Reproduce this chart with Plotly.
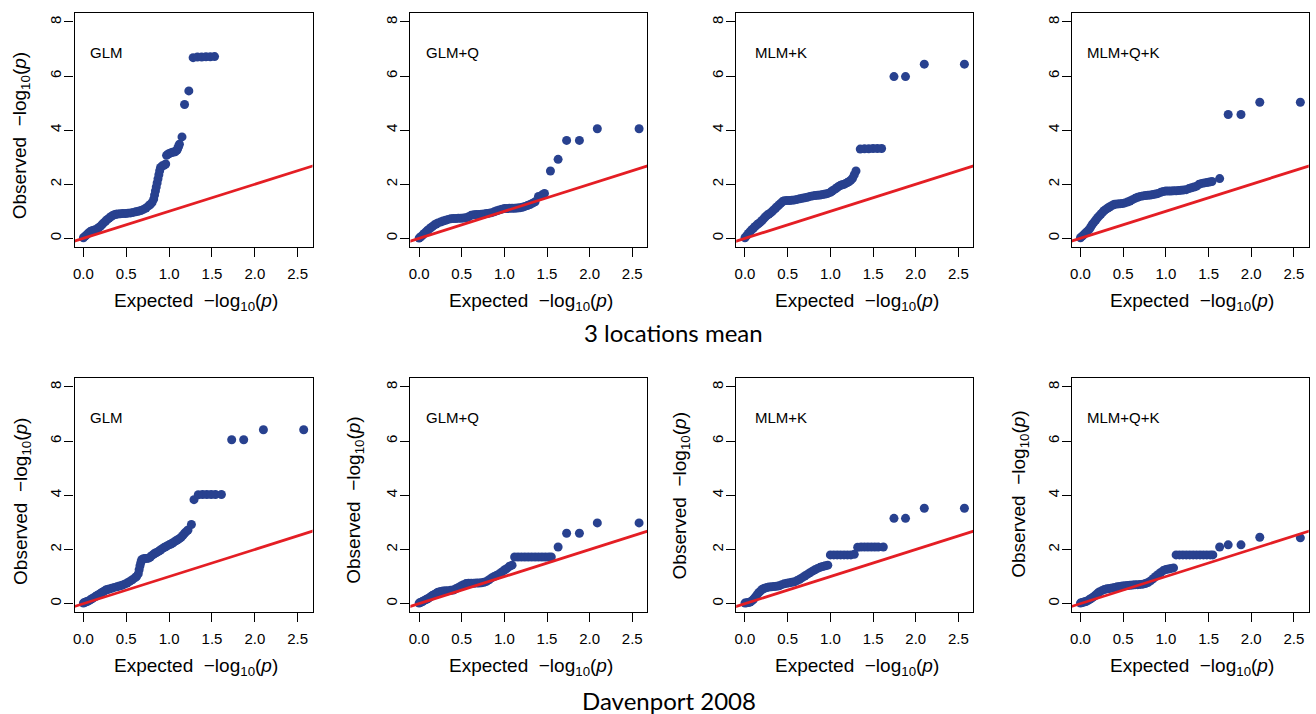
import plotly.graph_objects as go

W, H = 1316, 714

# ---------------- data ----------------
PANEL_LABELS = ["GLM", "GLM+Q", "MLM+K", "MLM+Q+K"]
ROW_TITLES = ["3 locations mean", "Davenport 2008"]
X_TICKS = [0.0, 0.5, 1.0, 1.5, 2.0, 2.5]
X_TICK_TEXT = ["0.0", "0.5", "1.0", "1.5", "2.0", "2.5"]
Y_TICKS = [0, 2, 4, 6, 8]
Y_TICK_TEXT = ["0", "2", "4", "6", "8"]
REF_LINE = [-1.0, 3.0]  # expected = observed (y = x)

# 3 locations mean
mean_glm_x = [0.00,0.02,0.04,0.06,0.08,0.10,0.12,0.14,0.16,0.18,0.20,0.22,0.24,0.26,0.28,0.30,0.32,0.34,0.36,0.38,0.40,0.43,0.46,0.49,0.52,0.55,0.58,0.61,0.64,0.67,0.70,0.73,0.76,0.78,0.80,0.82,0.83,0.84,0.85,0.86,0.87,0.88,0.89,0.90,0.92,0.94,0.96,0.97,0.99,1.01,1.03,1.05,1.07,1.09,1.10,1.11,1.12,1.15,1.18,1.23,1.28,1.33,1.38,1.43,1.48,1.53]
mean_glm_y = [0.02,0.08,0.14,0.20,0.25,0.28,0.30,0.32,0.35,0.40,0.45,0.52,0.58,0.64,0.70,0.75,0.80,0.84,0.87,0.89,0.90,0.91,0.92,0.92,0.93,0.94,0.96,0.98,1.00,1.03,1.07,1.12,1.20,1.25,1.32,1.45,1.60,1.75,1.90,2.05,2.20,2.35,2.50,2.62,2.68,2.70,2.75,3.07,3.12,3.15,3.17,3.19,3.20,3.25,3.32,3.40,3.48,3.75,4.95,5.45,6.68,6.70,6.70,6.71,6.71,6.72]

mean_glmq_x = [0.00,0.02,0.04,0.06,0.08,0.10,0.12,0.14,0.16,0.18,0.20,0.22,0.25,0.28,0.31,0.34,0.37,0.40,0.43,0.46,0.49,0.52,0.55,0.58,0.61,0.64,0.67,0.70,0.73,0.76,0.79,0.82,0.85,0.88,0.91,0.94,0.97,1.00,1.03,1.06,1.09,1.12,1.15,1.18,1.21,1.24,1.27,1.30,1.33,1.36,1.40,1.44,1.47,1.54,1.63,1.73,1.88,2.09,2.58]
mean_glmq_y = [0.01,0.06,0.12,0.18,0.24,0.30,0.35,0.40,0.45,0.50,0.53,0.57,0.60,0.64,0.67,0.70,0.72,0.73,0.73,0.74,0.74,0.75,0.76,0.80,0.85,0.87,0.88,0.88,0.89,0.90,0.92,0.93,0.95,0.98,1.02,1.05,1.08,1.10,1.10,1.11,1.11,1.11,1.12,1.13,1.15,1.18,1.21,1.25,1.30,1.35,1.55,1.60,1.66,2.49,2.92,3.62,3.62,4.05,4.05]

mean_mlmk_x = [0.00,0.02,0.04,0.06,0.08,0.10,0.12,0.14,0.16,0.18,0.20,0.22,0.24,0.26,0.28,0.30,0.32,0.34,0.36,0.38,0.40,0.42,0.44,0.46,0.49,0.52,0.55,0.58,0.61,0.64,0.67,0.70,0.73,0.76,0.79,0.82,0.85,0.88,0.91,0.94,0.97,1.00,1.02,1.04,1.06,1.08,1.10,1.12,1.14,1.16,1.18,1.20,1.22,1.24,1.26,1.28,1.30,1.35,1.40,1.45,1.50,1.55,1.60,1.745,1.88,2.10,2.57]
mean_mlmk_y = [0.02,0.10,0.18,0.25,0.32,0.38,0.44,0.50,0.55,0.60,0.66,0.73,0.80,0.86,0.90,0.94,1.00,1.06,1.12,1.18,1.24,1.30,1.36,1.39,1.40,1.40,1.41,1.42,1.44,1.46,1.48,1.50,1.52,1.55,1.57,1.58,1.59,1.60,1.62,1.64,1.66,1.70,1.75,1.79,1.83,1.88,1.93,1.96,1.98,2.00,2.03,2.06,2.10,2.15,2.22,2.35,2.49,3.30,3.31,3.31,3.32,3.32,3.32,5.98,5.98,6.44,6.44]

mean_mlmqk_x = [0.00,0.02,0.04,0.06,0.08,0.10,0.12,0.14,0.16,0.18,0.20,0.22,0.24,0.26,0.28,0.30,0.32,0.34,0.36,0.38,0.40,0.43,0.46,0.49,0.52,0.55,0.58,0.61,0.64,0.67,0.70,0.73,0.76,0.79,0.82,0.85,0.88,0.91,0.94,0.97,1.00,1.03,1.06,1.09,1.12,1.15,1.18,1.21,1.24,1.27,1.30,1.33,1.36,1.39,1.42,1.45,1.48,1.51,1.54,1.63,1.73,1.88,2.10,2.575]
mean_mlmqk_y = [0.02,0.08,0.14,0.20,0.26,0.32,0.42,0.52,0.60,0.68,0.76,0.83,0.90,0.97,1.03,1.08,1.12,1.16,1.20,1.23,1.26,1.27,1.28,1.29,1.31,1.34,1.38,1.43,1.48,1.52,1.55,1.57,1.58,1.59,1.60,1.62,1.64,1.66,1.70,1.73,1.75,1.75,1.75,1.76,1.76,1.77,1.78,1.79,1.80,1.84,1.87,1.90,1.93,2.00,2.03,2.05,2.06,2.08,2.10,2.21,4.58,4.58,5.03,5.03]

# Davenport 2008
dav_glm_x = [0.00,0.02,0.04,0.06,0.08,0.10,0.12,0.14,0.16,0.18,0.20,0.22,0.24,0.26,0.28,0.30,0.33,0.36,0.39,0.42,0.45,0.48,0.51,0.54,0.57,0.60,0.62,0.64,0.65,0.66,0.67,0.68,0.70,0.72,0.74,0.76,0.78,0.80,0.82,0.84,0.86,0.88,0.90,0.92,0.94,0.96,0.98,1.00,1.02,1.04,1.06,1.08,1.10,1.12,1.14,1.16,1.18,1.20,1.22,1.26,1.29,1.34,1.39,1.44,1.49,1.54,1.61,1.73,1.87,2.10,2.57]
dav_glm_y = [0.02,0.05,0.08,0.10,0.14,0.18,0.22,0.26,0.30,0.34,0.38,0.42,0.46,0.50,0.52,0.54,0.57,0.60,0.62,0.65,0.68,0.72,0.76,0.82,0.88,0.95,1.00,1.10,1.25,1.40,1.52,1.62,1.66,1.67,1.67,1.68,1.72,1.78,1.83,1.87,1.90,1.94,1.98,2.03,2.07,2.10,2.14,2.17,2.20,2.24,2.28,2.32,2.36,2.40,2.45,2.52,2.60,2.66,2.72,2.92,3.84,4.02,4.03,4.03,4.03,4.03,4.03,6.05,6.05,6.42,6.42]

dav_glmq_x = [0.00,0.02,0.04,0.06,0.08,0.10,0.12,0.14,0.16,0.18,0.20,0.22,0.25,0.28,0.31,0.34,0.37,0.40,0.43,0.46,0.49,0.52,0.55,0.58,0.61,0.64,0.67,0.70,0.73,0.76,0.79,0.82,0.85,0.88,0.91,0.94,0.97,1.00,1.03,1.06,1.09,1.12,1.16,1.20,1.24,1.28,1.32,1.36,1.40,1.44,1.48,1.52,1.55,1.63,1.73,1.88,2.09,2.58]
dav_glmq_y = [0.02,0.05,0.08,0.12,0.15,0.18,0.22,0.27,0.31,0.34,0.38,0.42,0.45,0.47,0.48,0.48,0.49,0.50,0.55,0.60,0.65,0.70,0.74,0.75,0.75,0.75,0.76,0.76,0.77,0.79,0.82,0.88,0.95,1.00,1.05,1.10,1.17,1.24,1.30,1.38,1.42,1.72,1.72,1.72,1.72,1.72,1.72,1.72,1.72,1.72,1.72,1.72,1.72,2.09,2.60,2.60,2.98,2.98]

dav_mlmk_x = [0.00,0.02,0.04,0.06,0.08,0.10,0.12,0.14,0.16,0.18,0.20,0.22,0.24,0.26,0.28,0.31,0.34,0.37,0.40,0.43,0.46,0.49,0.52,0.55,0.58,0.61,0.64,0.67,0.70,0.73,0.76,0.79,0.82,0.85,0.88,0.91,0.94,0.97,1.00,1.04,1.08,1.12,1.16,1.20,1.24,1.28,1.32,1.36,1.40,1.44,1.48,1.52,1.56,1.62,1.745,1.88,2.10,2.57]
dav_mlmk_y = [0.02,0.03,0.04,0.06,0.10,0.16,0.24,0.32,0.40,0.46,0.52,0.56,0.58,0.60,0.61,0.62,0.63,0.64,0.66,0.70,0.73,0.75,0.77,0.79,0.81,0.85,0.90,0.96,1.02,1.08,1.14,1.20,1.25,1.30,1.34,1.37,1.40,1.42,1.80,1.80,1.80,1.80,1.80,1.80,1.80,1.82,2.08,2.09,2.09,2.09,2.09,2.09,2.09,2.09,3.15,3.15,3.52,3.52]

dav_mlmqk_x = [0.00,0.02,0.04,0.06,0.08,0.10,0.12,0.14,0.16,0.18,0.20,0.22,0.25,0.28,0.31,0.34,0.37,0.40,0.43,0.46,0.49,0.52,0.55,0.58,0.61,0.64,0.67,0.70,0.73,0.76,0.79,0.82,0.85,0.88,0.91,0.94,0.97,1.00,1.03,1.06,1.09,1.12,1.16,1.20,1.24,1.28,1.32,1.36,1.40,1.44,1.48,1.52,1.55,1.63,1.73,1.88,2.10,2.575]
dav_mlmqk_y = [0.02,0.04,0.06,0.08,0.10,0.14,0.18,0.22,0.27,0.32,0.38,0.43,0.48,0.52,0.55,0.56,0.58,0.60,0.62,0.63,0.65,0.66,0.67,0.68,0.69,0.70,0.70,0.71,0.72,0.74,0.78,0.84,0.92,1.00,1.08,1.15,1.22,1.26,1.28,1.30,1.32,1.80,1.80,1.80,1.80,1.80,1.80,1.80,1.80,1.80,1.80,1.80,1.80,2.09,2.17,2.17,2.45,2.43]

PANELS = [
    (mean_glm_x, mean_glm_y), (mean_glmq_x, mean_glmq_y),
    (mean_mlmk_x, mean_mlmk_y), (mean_mlmqk_x, mean_mlmqk_y),
    (dav_glm_x, dav_glm_y), (dav_glmq_x, dav_glmq_y),
    (dav_mlmk_x, dav_mlmk_y), (dav_mlmqk_x, dav_mlmqk_y),
]

# ---------------- layout constants (pixels) ----------------
BLUE = "#28418f"
RED = "#e41e24"
AX_FONT = "Liberation Sans, Arial, Helvetica, sans-serif"
TITLE_FONT = "Lato, Calibri, Carlito, sans-serif"

COL_X = [(72.7, 311.0), (409.0, 646.0), (735.3, 972.7), (1071.3, 1308.7)]
ROW_Y = [(13.3, 247.0), (378.3, 612.3)]
XRANGE = [-0.103, 2.673]
YRANGE = [-0.32, 8.32]
LABEL_X = [0.05, 0.06, 0.09, 0.05]
LABEL_Y = 6.87
XTITLE_Y = [301.7, 666.7]
YTITLE_POS = {0: (19.3, 136.0), 4: (20.0, 501.0), 5: (353.3, 500.0), 6: (680.5, 496.0), 7: (1019.3, 494.0)}
ROW_TITLE_POS = [(672.5, 332.0), (668.0, 700.0)]

XTITLE = "Expected\u00a0\u00a0\u2212log<sub>10</sub>(<i>p</i>)"
YTITLE = "Observed\u00a0\u00a0\u2212log<sub>10</sub>(<i>p</i>)"

fig = go.Figure()
layout = dict(
    width=W, height=H, margin=dict(l=0, r=0, t=0, b=0),
    paper_bgcolor="white", plot_bgcolor="white", showlegend=False,
    annotations=[],
)

for k, (xs, ys) in enumerate(PANELS):
    row, col = divmod(k, 4)
    xn = "x" if k == 0 else f"x{k+1}"
    yn = "y" if k == 0 else f"y{k+1}"
    xa = "xaxis" if k == 0 else f"xaxis{k+1}"
    ya = "yaxis" if k == 0 else f"yaxis{k+1}"
    x0, x1 = COL_X[col]
    y0, y1 = ROW_Y[row]

    fig.add_trace(go.Scatter(
        x=xs, y=ys, mode="markers", xaxis=xn, yaxis=yn,
        marker=dict(color=BLUE, size=9, line=dict(width=0)),
        hoverinfo="skip",
    ))
    fig.add_trace(go.Scatter(
        x=REF_LINE, y=REF_LINE, mode="lines", xaxis=xn, yaxis=yn,
        line=dict(color=RED, width=2.8), hoverinfo="skip",
    ))

    common = dict(
        showgrid=False, zeroline=False, showline=True, mirror=True,
        linecolor="black", linewidth=1.2, ticks="outside", ticklen=9,
        tickwidth=1.1, tickcolor="black",
        tickfont=dict(family=AX_FONT, size=15, color="black"),
        fixedrange=True,
    )
    layout[xa] = dict(
        common, domain=[x0 / W, x1 / W], range=XRANGE, anchor=yn,
        tickmode="array", tickvals=X_TICKS, ticktext=X_TICK_TEXT,
        ticklabelstandoff=4,
    )
    layout[ya] = dict(
        common, domain=[1 - y1 / H, 1 - y0 / H], range=YRANGE, anchor=xn,
        tickmode="array", tickvals=Y_TICKS, ticktext=Y_TICK_TEXT,
        tickangle=-90, ticklabelstandoff=-3,
    )

    # panel label
    layout["annotations"].append(dict(
        text=PANEL_LABELS[col], x=LABEL_X[col], y=LABEL_Y, xref=xn, yref=yn,
        xanchor="left", yanchor="middle", showarrow=False,
        font=dict(family=AX_FONT, size=15, color="black"),
    ))
    # x axis title
    layout["annotations"].append(dict(
        text=XTITLE, x=((x0 + x1) / 2 + 2) / W, y=1 - XTITLE_Y[row] / H,
        xref="paper", yref="paper", xanchor="center", yanchor="middle",
        showarrow=False, font=dict(family=AX_FONT, size=19, color="black"),
    ))
    # y axis title
    if k in YTITLE_POS:
        px, py = YTITLE_POS[k]
        layout["annotations"].append(dict(
            text=YTITLE, x=px / W, y=1 - py / H, xref="paper", yref="paper",
            xanchor="center", yanchor="middle", textangle=-90, showarrow=False,
            font=dict(family=AX_FONT, size=19, color="black"),
        ))

for (px, py), t in zip(ROW_TITLE_POS, ROW_TITLES):
    layout["annotations"].append(dict(
        text=t, x=px / W, y=1 - py / H, xref="paper", yref="paper",
        xanchor="center", yanchor="middle", showarrow=False,
        font=dict(family=TITLE_FONT, size=24, color="black"),
    ))

fig.update_layout(**layout)
fig.write_html(
    "out.html",
    config={"displayModeBar": False},
    post_script="document.body.style.margin='0px';document.body.style.overflow='hidden';",
)
